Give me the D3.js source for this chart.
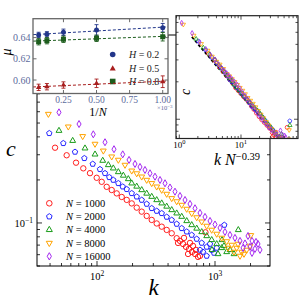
<!DOCTYPE html>
<html>
<head>
<meta charset="utf-8">
<script src="https://cdn.jsdelivr.net/npm/d3@7"></script>
<style>
body { margin: 0; background: #fff; }
text { font-family: "Liberation Serif", "DejaVu Serif", serif; }
</style>
</head>
<body>
<script>
// main panel: c versus k, one series per N
const seriesN = [1000, 2000, 4000, 8000, 16000];
const k1000 = [44.1, 55.3, 66.4, 76.5, 87.2, 99.4, 109.6, 120.8, 133.2, 146.9, 162, 178.6, 196.9, 217, 239.2, 263.7, 290.8, 320.6, 353.5, 389.6, 429.6, 473.6, 505, 536, 568, 602, 638, 677, 718, 546, 614, 690, 746, 591, 486, 651, 830];
const c1000 = [0.336, 0.2975, 0.264, 0.241, 0.223, 0.207, 0.194, 0.179, 0.170, 0.161, 0.152, 0.145, 0.137, 0.128, 0.120, 0.112, 0.105, 0.0992, 0.0942, 0.0894, 0.0847, 0.0782, 0.0749, 0.0713, 0.068, 0.0658, 0.0627, 0.0607, 0.0579, 0.0786, 0.0725, 0.0648, 0.0588, 0.0607, 0.0725, 0.0691, 0.086];
const k2000 = [39.4, 51.8, 65.1, 78.1, 92, 106, 116.9, 127.1, 137.4, 151.6, 165.2, 178.6, 196.9, 217, 239.2, 263.7, 290.8, 320.6, 353.5, 389.6, 429.6, 473.6, 522.2, 575.8, 634.7, 699.7, 771.5, 850.5, 937.6, 850, 981, 746, 907, 791, 1199, 1034];
const c2000 = [0.424, 0.361, 0.314, 0.2835, 0.2586, 0.2375, 0.2226, 0.2087, 0.1998, 0.1895, 0.1794, 0.1721, 0.1613, 0.1527, 0.1448, 0.1358, 0.1267, 0.1213, 0.1169, 0.1102, 0.1049, 0.0984, 0.0918, 0.0869, 0.0824, 0.0773, 0.0725, 0.068, 0.0648, 0.0588, 0.0617, 0.0648, 0.0713, 0.0627, 0.0968, 0.0669];
const k4000 = [47.6, 62.2, 79.1, 96.2, 111.8, 124.7, 137.4, 151.6, 167.1, 184.2, 196.9, 217, 239.2, 263.7, 290.8, 320.6, 353.5, 389.6, 429.6, 473.6, 522.2, 575.8, 634.7, 699.7, 771.5, 850.5, 937.6, 1034, 1140, 1256, 1060, 1192, 1340, 943, 1576, 1146, 1449];
const c4000 = [0.442, 0.376, 0.333, 0.302, 0.273, 0.2545, 0.2413, 0.2273, 0.2148, 0.2031, 0.1895, 0.180, 0.1701, 0.1608, 0.1527, 0.1448, 0.1374, 0.1304, 0.1233, 0.1169, 0.1107, 0.1033, 0.0968, 0.0915, 0.0865, 0.0811, 0.0761, 0.0713, 0.0669, 0.0627, 0.0607, 0.0691, 0.0648, 0.0648, 0.0894, 0.0761, 0.0607];
const k8000 = [38.7, 57.1, 75.6, 96.2, 113.1, 133.2, 151.6, 172.7, 196.9, 217, 239.2, 263.7, 290.8, 320.6, 353.5, 389.6, 429.6, 473.6, 522.2, 575.8, 634.7, 699.7, 771.5, 850.5, 937.6, 1034, 1140, 1256, 1385, 1527, 1684, 1856, 1566, 1761, 1289, 1980, 1449, 1629, 2010];
const c8000 = [0.578, 0.4715, 0.404, 0.357, 0.320, 0.291, 0.276, 0.2545, 0.232, 0.2219, 0.2107, 0.1998, 0.1895, 0.1794, 0.1701, 0.1595, 0.1488, 0.1414, 0.1336, 0.1253, 0.1169, 0.1093, 0.1021, 0.0953, 0.0894, 0.0838, 0.0786, 0.0743, 0.0702, 0.0669, 0.0627, 0.0648, 0.0713, 0.0607, 0.0669, 0.0691, 0.0627, 0.0588, 0.082];
const k16000 = [47.6, 70.4, 93, 116.9, 139.3, 165.2, 186.8, 209.9, 231.4, 255.1, 281.3, 310.1, 342, 377.1, 415.5, 458.1, 505.1, 557, 614, 677, 746.3, 822.8, 907.2, 1000, 1103, 1215, 1340, 1477, 1629, 1796, 1980, 2183, 2314, 2059, 2406, 1904, 1728, 2226, 2059];
const c16000 = [0.594, 0.492, 0.417, 0.367, 0.328, 0.302, 0.276, 0.2586, 0.2464, 0.2348, 0.2226, 0.2107, 0.1998, 0.1895, 0.1771, 0.1655, 0.1545, 0.1448, 0.1358, 0.1267, 0.1175, 0.1102, 0.1033, 0.0976, 0.0923, 0.0865, 0.0824, 0.0786, 0.0749, 0.0719, 0.068, 0.0658, 0.0713, 0.0749, 0.0648, 0.0811, 0.0669, 0.0737, 0.0617];
const seriesK = [k1000, k2000, k4000, k8000, k16000];
const seriesC = [c1000, c2000, c4000, c8000, c16000];

// collapse exponent and reference power law of the right inset
const collapseExp = 0.39;
const refX = [1.6, 33.4];
const refC = [0.459, 0.0779];

// left inset: mu versus 1/N (in units of 1e-3)
const invN = [0.0625, 0.125, 0.25, 0.5, 1.0];
const Hvals = [0.2, 0.5, 0.8];
const muH02 = [0.6425, 0.6431, 0.6450, 0.6472, 0.6493];
const errH02 = [0.0025, 0.0025, 0.003, 0.005, 0.004];
const muH05 = [0.5931, 0.5937, 0.5953, 0.5969, 0.5984];
const errH05 = [0.003, 0.003, 0.003, 0.004, 0.0055];
const muH08 = [0.6361, 0.6371, 0.6384, 0.6393, 0.6408];
const errH08 = [0.003, 0.003, 0.003, 0.003, 0.004];
const muTicks = [0.60, 0.62, 0.64];
const invNTicks = [0.25, 0.5, 0.75, 1.0];

const seriesColor = ["#ff1f1f", "#2424ff", "#1a9c1a", "#ffa300", "#a428f0"];
const seriesShape = ["o", "p", "^", "v", "d"];
const hColor = ["#22368a", "#a81e1e", "#1d5d1d"];
const hShape = ["o", "^", "s"];
const labelBlue = "#5c6b9c";

const svg = d3.select("body").append("svg").attr("width", 300).attr("height", 300);

function markerPath(shape, r) {
    let p = d3.path();
    if (shape === "o") {
        p.moveTo(r, 0);
        p.arc(0, 0, r, 0, 2 * Math.PI);
        p.closePath();
        return p.toString();
    }
    let pts;
    if (shape === "s") pts = [[-r, -r], [r, -r], [r, r], [-r, r]];
    else if (shape === "d") pts = [[0, -1.3 * r], [0.75 * r, 0], [0, 1.3 * r], [-0.75 * r, 0]];
    else {
        let n = shape === "p" ? 5 : 3;
        let a0 = shape === "v" ? Math.PI / 2 : -Math.PI / 2;
        let rr = shape === "p" ? r * 1.05 : r * 1.25;
        pts = d3.range(n).map(i => [rr * Math.cos(a0 + i * 2 * Math.PI / n), rr * Math.sin(a0 + i * 2 * Math.PI / n)]);
    }
    pts.forEach((q, i) => i ? p.lineTo(q[0], q[1]) : p.moveTo(q[0], q[1]));
    p.closePath();
    return p.toString();
}

function isPow10(v) {
    let l = Math.log10(v);
    return Math.abs(l - Math.round(l)) < 1e-6;
}

function logTickSet(scale, majLen, minLen) {
    return scale.ticks().map(v => ({v: v, len: isPow10(v) ? majLen : minLen}));
}

// inward ticks on all four sides
function drawTicks(g, box, xs, ys, xt, yt, col) {
    let t = g.append("g").attr("stroke", col).attr("stroke-width", 0.8);
    t.selectAll(".xb").data(xt).join("line")
     .attr("x1", d => xs(d.v)).attr("x2", d => xs(d.v))
     .attr("y1", box.b).attr("y2", d => box.b - d.len);
    t.selectAll(".xt").data(xt).join("line")
     .attr("x1", d => xs(d.v)).attr("x2", d => xs(d.v))
     .attr("y1", box.t).attr("y2", d => box.t + d.len);
    t.selectAll(".yl").data(yt).join("line")
     .attr("y1", d => ys(d.v)).attr("y2", d => ys(d.v))
     .attr("x1", box.l).attr("x2", d => box.l + d.len);
    t.selectAll(".yr").data(yt).join("line")
     .attr("y1", d => ys(d.v)).attr("y2", d => ys(d.v))
     .attr("x1", box.r).attr("x2", d => box.r - d.len);
}

function powLabel(sel, exp, supSize) {
    sel.append("tspan").text("10");
    sel.append("tspan").attr("dy", -4).attr("font-size", supSize).text(exp);
}

// ---------- main panel ----------
const mb = {l: 37, r: 270, t: 35, b: 266};
let x = d3.scaleLog().domain([31, 2925]).range([mb.l, mb.r]);
let y = d3.scaleLog().domain([0.05, 2.064]).range([mb.b, mb.t]);

let main = svg.append("g");
svg.append("clipPath").attr("id", "mainclip").append("rect")
   .attr("x", mb.l).attr("y", mb.t).attr("width", mb.r - mb.l).attr("height", mb.b - mb.t);

let mdata = main.append("g").attr("clip-path", "url(#mainclip)");
seriesN.forEach((n, i) => {
    mdata.append("g").selectAll("path")
         .data(d3.zip(seriesK[i], seriesC[i]))
         .join("path")
         .attr("transform", d => "translate(" + x(d[0]) + "," + y(d[1]) + ")")
         .attr("d", markerPath(seriesShape[i], 2.7))
         .attr("fill", "none")
         .attr("stroke", seriesColor[i])
         .attr("stroke-width", 1);
});

drawTicks(main, mb, x, y, logTickSet(x, 5, 3), logTickSet(y, 5, 3), "#000");
main.append("rect").attr("x", mb.l).attr("y", mb.t)
    .attr("width", mb.r - mb.l).attr("height", mb.b - mb.t)
    .attr("fill", "none").attr("stroke", "#000").attr("stroke-width", 1);

[100, 1000].forEach(v => {
    let t = main.append("text").attr("x", x(v)).attr("y", 280)
                .attr("text-anchor", "middle").attr("font-size", 10.5);
    powLabel(t, Math.round(Math.log10(v)), 7.5);
});
let ylab = main.append("text").attr("x", 33).attr("y", 226.5)
               .attr("text-anchor", "end").attr("font-size", 10.5);
powLabel(ylab, "\u22121", 7.5);

main.append("text").attr("x", (mb.l + mb.r) / 2).attr("y", 294.5)
    .attr("text-anchor", "middle").attr("font-size", 23).attr("font-style", "italic").text("k");
main.append("text").attr("x", 11).attr("y", 156)
    .attr("text-anchor", "middle").attr("font-size", 22).attr("font-style", "italic").text("c");

// legend
let leg = main.append("g");
seriesN.forEach((n, i) => {
    let ly = 203.3 + i * 13.25;
    leg.append("path").attr("transform", "translate(49.3," + ly + ")")
       .attr("d", markerPath(seriesShape[i], 2.8))
       .attr("fill", "none").attr("stroke", seriesColor[i]).attr("stroke-width", 1);
    let t = leg.append("text").attr("x", 66).attr("y", ly + 3.6).attr("font-size", 10.5);
    t.append("tspan").attr("font-style", "italic").text("N");
    t.append("tspan").text(" = " + n);
});

// ---------- left inset ----------
const lb = {l: 33, r: 168, t: 18.7, b: 93.5};
let xi = d3.scaleLinear().domain([0.02, 1.04]).range([lb.l, lb.r]);
let yi = d3.scaleLinear().domain([0.5873, 0.6578]).range([lb.b, lb.t]);
let linset = svg.append("g");
linset.append("rect").attr("x", lb.l).attr("y", lb.t)
      .attr("width", lb.r - lb.l).attr("height", lb.b - lb.t).attr("fill", "#fff");

let muSets = [muH02, muH05, muH08];
let errSets = [errH02, errH05, errH08];

// legend (no frame, lines run over it)
Hvals.forEach((h, i) => {
    let ly = [54.5, 68.8, 81.5][i];
    linset.append("path").attr("transform", "translate(112.7," + ly + ")")
          .attr("d", markerPath(hShape[i], 2.8)).attr("fill", hColor[i]);
    let t = linset.append("text").attr("x", 129).attr("y", ly + 3.5)
                  .attr("font-size", 10).attr("fill", "#222");
    t.append("tspan").attr("font-style", "italic").text("H");
    t.append("tspan").text(" = " + h);
});

muSets.forEach((mu, i) => {
    // least squares line through the points
    let mx = d3.mean(invN), my = d3.mean(mu);
    let slope = d3.sum(invN, (v, j) => (v - mx) * (mu[j] - my)) / d3.sum(invN, v => (v - mx) * (v - mx));
    let x0 = xi.domain()[0], x1 = xi.domain()[1];
    linset.append("line")
          .attr("x1", xi(x0)).attr("y1", yi(my + slope * (x0 - mx)))
          .attr("x2", xi(x1)).attr("y2", yi(my + slope * (x1 - mx)))
          .attr("stroke", hColor[i]).attr("stroke-width", 1).attr("stroke-dasharray", "3,2");
    let pts = invN.map((v, j) => ({v: v, m: mu[j], e: errSets[i][j]}));
    let g = linset.append("g").attr("stroke", hColor[i]).attr("stroke-width", 0.9);
    g.selectAll(".bar").data(pts).join("line")
     .attr("x1", d => xi(d.v)).attr("x2", d => xi(d.v))
     .attr("y1", d => yi(d.m - d.e)).attr("y2", d => yi(d.m + d.e));
    g.selectAll(".capt").data(pts).join("line")
     .attr("x1", d => xi(d.v) - 2).attr("x2", d => xi(d.v) + 2)
     .attr("y1", d => yi(d.m + d.e)).attr("y2", d => yi(d.m + d.e));
    g.selectAll(".capb").data(pts).join("line")
     .attr("x1", d => xi(d.v) - 2).attr("x2", d => xi(d.v) + 2)
     .attr("y1", d => yi(d.m - d.e)).attr("y2", d => yi(d.m - d.e));
    linset.append("g").selectAll("path").data(pts).join("path")
          .attr("transform", d => "translate(" + xi(d.v) + "," + yi(d.m) + ")")
          .attr("d", markerPath(hShape[i], 2.5)).attr("fill", hColor[i]);
});

drawTicks(linset, lb, xi, yi, invNTicks.map(v => ({v: v, len: 3.5})), muTicks.map(v => ({v: v, len: 3.5})), "#444");
linset.append("rect").attr("x", lb.l).attr("y", lb.t)
      .attr("width", lb.r - lb.l).attr("height", lb.b - lb.t)
      .attr("fill", "none").attr("stroke", "#666").attr("stroke-width", 1.3);

linset.selectAll(".xl").data(invNTicks).join("text")
      .attr("x", d => xi(d)).attr("y", 102.5).attr("text-anchor", "middle")
      .attr("font-size", 9.5).attr("fill", labelBlue).text(d => d3.format(".2f")(d));
linset.selectAll(".yl").data(muTicks).join("text")
      .attr("x", 30.5).attr("y", d => yi(d) + 3.5).attr("text-anchor", "end")
      .attr("font-size", 10).attr("fill", labelBlue).text(d => d3.format(".2f")(d));
let off = linset.append("text").attr("x", 157).attr("y", 110).attr("font-size", 6.5).attr("fill", labelBlue);
off.append("tspan").text("\u00d710");
off.append("tspan").attr("dy", -2.5).attr("font-size", 5).text("\u22123");

let xl = linset.append("text").attr("x", 98).attr("y", 116).attr("text-anchor", "middle").attr("font-size", 12);
xl.append("tspan").text("1/");
xl.append("tspan").attr("font-style", "italic").text("N");
linset.append("text").attr("transform", "translate(10.5,52) rotate(-90)")
      .attr("text-anchor", "middle").attr("font-size", 14).attr("font-style", "italic").text("\u03bc");

// ---------- right inset: collapse ----------
const rb = {l: 176, r: 298, t: 15.7, b: 138.5};
let xr = d3.scaleLog().domain([0.884, 84]).range([rb.l, rb.r]);
let yr = d3.scaleLog().domain([0.07, 0.68]).range([rb.b, rb.t]);
let rinset = svg.append("g");
rinset.append("rect").attr("x", rb.l).attr("y", rb.t)
      .attr("width", rb.r - rb.l).attr("height", rb.b - rb.t).attr("fill", "#fff");
svg.append("clipPath").attr("id", "rclip").append("rect")
   .attr("x", rb.l).attr("y", rb.t).attr("width", rb.r - rb.l).attr("height", rb.b - rb.t);
let rdata = rinset.append("g").attr("clip-path", "url(#rclip)");

rdata.append("line")
     .attr("x1", xr(refX[0])).attr("y1", yr(refC[0]))
     .attr("x2", xr(refX[1])).attr("y2", yr(refC[1]))
     .attr("stroke", "#000").attr("stroke-width", 1.8).attr("stroke-dasharray", "3,2");

seriesN.forEach((n, i) => {
    let scaleK = Math.pow(n, -collapseExp);
    rdata.append("g").selectAll("path")
         .data(d3.zip(seriesK[i], seriesC[i]))
         .join("path")
         .attr("transform", d => "translate(" + xr(d[0] * scaleK) + "," + yr(d[1]) + ")")
         .attr("d", markerPath(seriesShape[i], 2))
         .attr("fill", "none").attr("stroke", seriesColor[i]).attr("stroke-width", 0.8);
});

drawTicks(rinset, rb, xr, yr, logTickSet(xr, 4, 2.5), logTickSet(yr, 4, 2.5), "#222");
rinset.append("rect").attr("x", rb.l).attr("y", rb.t)
      .attr("width", rb.r - rb.l).attr("height", rb.b - rb.t)
      .attr("fill", "none").attr("stroke", "#222").attr("stroke-width", 1.2);

[1, 10].forEach(v => {
    let t = rinset.append("text").attr("x", xr(v)).attr("y", 148)
                  .attr("text-anchor", "middle").attr("font-size", 9);
    powLabel(t, Math.round(Math.log10(v)), 6.5);
});
let rxl = rinset.append("text").attr("x", 237).attr("y", 165)
                .attr("text-anchor", "middle").attr("font-size", 16);
rxl.append("tspan").attr("font-style", "italic").text("k");
rxl.append("tspan").text(" ");
rxl.append("tspan").attr("font-style", "italic").text("N");
rxl.append("tspan").attr("dy", -5.5).attr("font-size", 10.5).text("\u22120.39");
rinset.append("text").attr("transform", "translate(189.5,92) rotate(-90)")
      .attr("text-anchor", "middle").attr("font-size", 14).attr("font-style", "italic").text("c");
</script>
</body>
</html>
